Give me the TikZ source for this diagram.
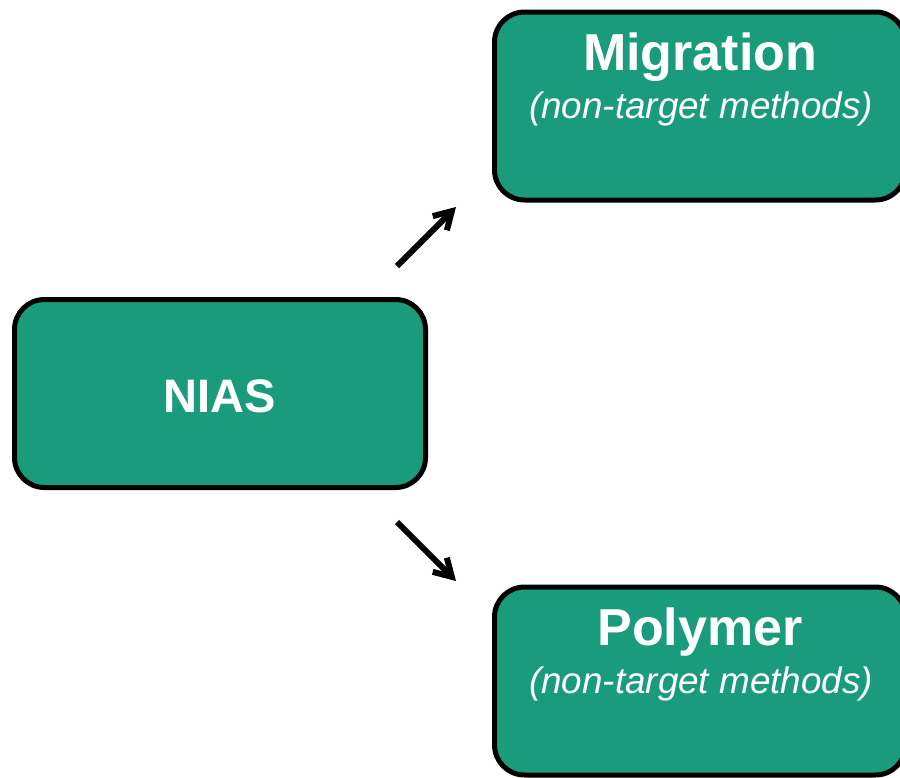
\documentclass[tikz,border=0pt]{standalone}
\usepackage{fontspec}
\setmainfont{Liberation Sans}
\usetikzlibrary{arrows.meta}
\definecolor{niasgreen}{RGB}{26,156,124}

\begin{document}
\begin{tikzpicture}[x=1pt, y=-1pt,
	box/.style={draw=black, line width=5pt, fill=niasgreen, rounded corners=30pt, minimum width=411pt, minimum height=188pt, inner sep=0pt},
	title/.style={text=white, font=\fontsize{52}{60}\selectfont\bfseries, anchor=base, inner sep=0pt},
	sub/.style={text=white, font=\fontsize{36.8}{42}\selectfont\itshape, anchor=base, inner sep=0pt},
	>={Straight Barb[length=17pt, width=20pt]}]
	\useasboundingbox (0,0) rectangle (900,777);
	% boxes
	\node[box] (nias) at (220,393.5) {};
	\node[box] (mig) at (700,106) {};
	\node[box] (pol) at (700,681) {};
	% texts
	\node[title, font=\fontsize{47}{54}\selectfont\bfseries] (niastxt) at (220,412) {NIAS};
	\node[title] (migtxt) at (700,70) {Migration};
	\node[sub] (migsub) at (701,118) {(non-target methods)};
	\node[title] (poltxt) at (700,645) {Polymer};
	\node[sub] (polsub) at (701,693) {(non-target methods)};
	% arrows
	\coordinate (upstart) at (397,266);
	\coordinate (upend) at (456,207);
	\coordinate (downstart) at (397,522);
	\coordinate (downend) at (456,581);
	\draw[->, line width=6pt] (upstart) -- (upend);
	\draw[->, line width=6pt] (downstart) -- (downend);
\end{tikzpicture}
\end{document}
